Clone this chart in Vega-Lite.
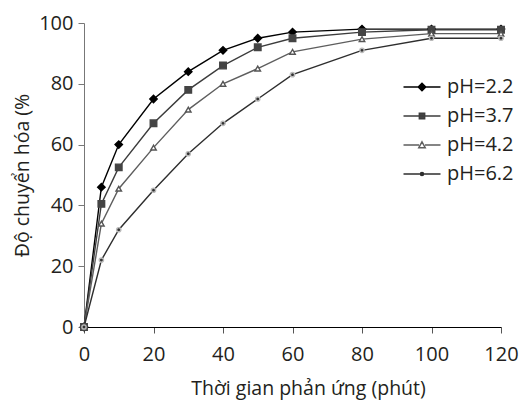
{
  "$schema": "https://vega.github.io/schema/vega-lite/v6.json",
  "autosize": {"type": "none"},
  "width": 417,
  "height": 304,
  "padding": {"left": 84, "top": 23, "right": 27, "bottom": 73},
  "background": "white",
  "config": {
    "view": {"stroke": null},
    "font": "Open Sans",
    "axis": {"grid": false, "labelFont": "Open Sans", "titleFont": "Open Sans", "labelColor": "#231f20", "titleColor": "#231f20", "titleFontWeight": "normal"}
  },
  "data": {
    "values": [
      {"t": 0, "pH": "pH=2.2", "y": 0},
      {"t": 5, "pH": "pH=2.2", "y": 46},
      {"t": 10, "pH": "pH=2.2", "y": 60},
      {"t": 20, "pH": "pH=2.2", "y": 75},
      {"t": 30, "pH": "pH=2.2", "y": 84},
      {"t": 40, "pH": "pH=2.2", "y": 91},
      {"t": 50, "pH": "pH=2.2", "y": 95},
      {"t": 60, "pH": "pH=2.2", "y": 97},
      {"t": 80, "pH": "pH=2.2", "y": 98},
      {"t": 100, "pH": "pH=2.2", "y": 98},
      {"t": 120, "pH": "pH=2.2", "y": 98},
      {"t": 0, "pH": "pH=3.7", "y": 0},
      {"t": 5, "pH": "pH=3.7", "y": 40.5},
      {"t": 10, "pH": "pH=3.7", "y": 52.5},
      {"t": 20, "pH": "pH=3.7", "y": 67},
      {"t": 30, "pH": "pH=3.7", "y": 78},
      {"t": 40, "pH": "pH=3.7", "y": 86},
      {"t": 50, "pH": "pH=3.7", "y": 92},
      {"t": 60, "pH": "pH=3.7", "y": 95},
      {"t": 80, "pH": "pH=3.7", "y": 97},
      {"t": 100, "pH": "pH=3.7", "y": 97.8},
      {"t": 120, "pH": "pH=3.7", "y": 97.8},
      {"t": 0, "pH": "pH=4.2", "y": 0},
      {"t": 5, "pH": "pH=4.2", "y": 34},
      {"t": 10, "pH": "pH=4.2", "y": 45.5},
      {"t": 20, "pH": "pH=4.2", "y": 59},
      {"t": 30, "pH": "pH=4.2", "y": 71.5},
      {"t": 40, "pH": "pH=4.2", "y": 80},
      {"t": 50, "pH": "pH=4.2", "y": 85},
      {"t": 60, "pH": "pH=4.2", "y": 90.5},
      {"t": 80, "pH": "pH=4.2", "y": 94.7},
      {"t": 100, "pH": "pH=4.2", "y": 96.5},
      {"t": 120, "pH": "pH=4.2", "y": 96.5},
      {"t": 0, "pH": "pH=6.2", "y": 0},
      {"t": 5, "pH": "pH=6.2", "y": 22},
      {"t": 10, "pH": "pH=6.2", "y": 32},
      {"t": 20, "pH": "pH=6.2", "y": 45},
      {"t": 30, "pH": "pH=6.2", "y": 57},
      {"t": 40, "pH": "pH=6.2", "y": 67},
      {"t": 50, "pH": "pH=6.2", "y": 75},
      {"t": 60, "pH": "pH=6.2", "y": 83},
      {"t": 80, "pH": "pH=6.2", "y": 91},
      {"t": 100, "pH": "pH=6.2", "y": 95},
      {"t": 120, "pH": "pH=6.2", "y": 95}
    ]
  },
  "encoding": {
    "x": {
      "field": "t", "type": "quantitative",
      "scale": {"domain": [0, 120], "nice": false},
      "axis": {"values": [0, 20, 40, 60, 80, 100, 120], "title": "Thời gian phản ứng (phút)", "titleX": 224, "labelFontSize": 20, "titleFontSize": 19.5, "tickSize": 6, "labelPadding": 11, "titlePadding": 15, "domainColor": "#000", "tickColor": "#555", "labelFlush": false, "labelOverlap": false}
    },
    "y": {
      "field": "y", "type": "quantitative",
      "scale": {"domain": [0, 100], "nice": false},
      "axis": {"values": [0, 20, 40, 60, 80, 100], "title": "Độ chuyển hóa (%", "labelFontSize": 20, "titleFontSize": 19.5, "tickSize": 6, "labelPadding": 5, "titlePadding": 6, "domainColor": "#777", "tickColor": "#777"}
    }
  },
  "layer": [
    {
      "mark": {"type": "line", "strokeWidth": 1.4},
      "encoding": {
        "color": {"field": "pH", "type": "nominal", "scale": {"domain": ["pH=2.2", "pH=3.7", "pH=4.2", "pH=6.2"], "range": ["#000000", "#3c3c3c", "#5e5e5e", "#2e2e2e"]},
          "legend": {
            "title": null, "orient": "none", "legendX": 327, "legendY": 53, "padding": 0,
            "symbolSize": 400, "rowPadding": 8, "labelOffset": 14, "labelFontSize": 20, "labelFont": "Open Sans", "labelColor": "#231f20", "symbolStrokeWidth": 1.4,
            "encode": {
              "symbols": {
                "update": {
                  "shape": {"signal": "datum.value === 'pH=2.2' ? 'M-1.85,0H1.85M0,-0.38L0.38,0L0,0.38L-0.38,0Z' : datum.value === 'pH=3.7' ? 'M-1.85,0H1.85M-0.27,-0.27H0.27V0.27H-0.27Z' : datum.value === 'pH=4.2' ? 'M-1.85,0H-0.3M0.3,0H1.85M0,-0.32L0.33,0.28L-0.33,0.28Z' : 'M-1.85,0H1.85M0.16,0A0.16,0.16 0 1,1 -0.16,0A0.16,0.16 0 1,1 0.16,0Z'"},
                  "fill": {"signal": "datum.value === 'pH=2.2' ? '#000000' : datum.value === 'pH=3.7' ? '#444444' : datum.value === 'pH=4.2' ? '#ffffff' : '#333333'"},
                  "stroke": {"signal": "datum.value === 'pH=2.2' ? '#000000' : datum.value === 'pH=3.7' ? '#444444' : datum.value === 'pH=4.2' ? '#5e5e5e' : '#555555'"},
                  "strokeWidth": {"value": 1.4},
                  "size": {"value": 400},
                  "opacity": {"value": 1},
                  "fillOpacity": {"value": 1}
                }
              }
            }
          }
        }
      }
    },
    {
      "mark": {"type": "point", "opacity": 1, "fillOpacity": 1, "strokeWidth": 1.4},
      "encoding": {
        "shape": {"field": "pH", "type": "nominal", "scale": {"domain": ["pH=6.2", "pH=4.2", "pH=3.7", "pH=2.2"], "range": ["circle", "triangle-up", "square", "diamond"]}, "legend": null},
        "fill": {"field": "pH", "type": "nominal", "scale": {"domain": ["pH=6.2", "pH=4.2", "pH=3.7", "pH=2.2"], "range": ["#333333", "#ffffff", "#444444", "#000000"]}, "legend": null},
        "stroke": {"field": "pH", "type": "nominal", "scale": {"domain": ["pH=6.2", "pH=4.2", "pH=3.7", "pH=2.2"], "range": ["#bbbbbb", "#555555", "#444444", "#000000"]}, "legend": null},
        "size": {"field": "pH", "type": "nominal", "scale": {"domain": ["pH=6.2", "pH=4.2", "pH=3.7", "pH=2.2"], "range": [18, 55, 40, 55]}, "legend": null}
      }
    }
  ],
  "view": {"stroke": null}
}
